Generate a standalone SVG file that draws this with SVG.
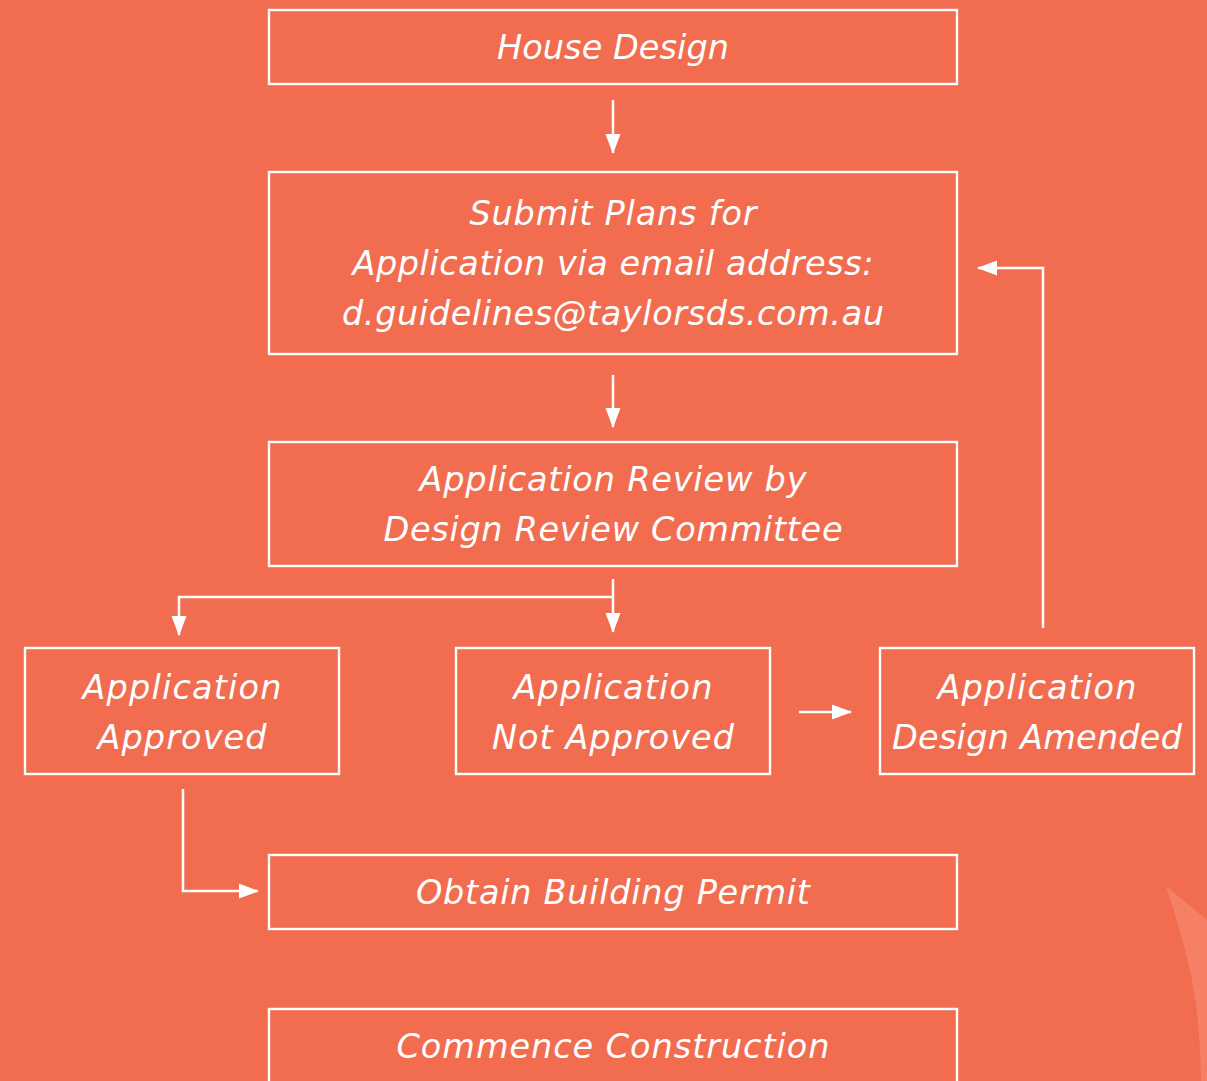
<svg xmlns="http://www.w3.org/2000/svg" width="1207" height="1081" viewBox="0 0 1207 1081">
<defs>
<style>
.box{fill:none;stroke:#fff;stroke-width:2.4}
.t{font-family:"DejaVu Sans","Liberation Sans",sans-serif;font-style:italic;font-size:33.5px;fill:#fff;text-anchor:middle}
.c{fill:none;stroke:#fff;stroke-width:2.5}
</style>
<marker id="a" markerUnits="userSpaceOnUse" markerWidth="20" markerHeight="18" viewBox="0 0 20 18" refX="19" refY="9" orient="auto">
<path d="M0,1.5 L20,9 L0,16.5 Z" fill="#fff"/>
</marker>
</defs>
<rect width="1207" height="1081" fill="#F26C50"/>
<path d="M1166,886 L1207,920 L1207,1081 L1201,1081 C1200,1000 1190,960 1166,886 Z" fill="#F5866B" opacity="0.8"/>
<g id="n1"><rect class="box" x="269" y="10" width="688" height="74"/><text class="t" x="613" y="59" textLength="232" lengthAdjust="spacing">House Design</text></g>
<g id="n2"><rect class="box" x="269" y="172" width="688" height="182"/><text class="t" x="613" y="225" textLength="287" lengthAdjust="spacing">Submit Plans for</text><text class="t" x="613" y="275" textLength="521" lengthAdjust="spacing">Application via email address:</text><text class="t" x="613" y="325" textLength="542" lengthAdjust="spacing">d.guidelines@taylorsds.com.au</text></g>
<g id="n3"><rect class="box" x="269" y="442" width="688" height="124"/><text class="t" x="613" y="491" textLength="387" lengthAdjust="spacing">Application Review by</text><text class="t" x="613" y="541" textLength="459" lengthAdjust="spacing">Design Review Committee</text></g>
<g id="n4"><rect class="box" x="25" y="648" width="314" height="126"/><text class="t" x="182" y="699" textLength="199" lengthAdjust="spacing">Application</text><text class="t" x="182" y="749" textLength="169" lengthAdjust="spacing">Approved</text></g>
<g id="n5"><rect class="box" x="456" y="648" width="314" height="126"/><text class="t" x="613" y="699" textLength="199" lengthAdjust="spacing">Application</text><text class="t" x="613" y="749" textLength="242" lengthAdjust="spacing">Not Approved</text></g>
<g id="n6"><rect class="box" x="880" y="648" width="314" height="126"/><text class="t" x="1037" y="699" textLength="199" lengthAdjust="spacing">Application</text><text class="t" x="1037" y="749" textLength="290" lengthAdjust="spacing">Design Amended</text></g>
<g id="n7"><rect class="box" x="269" y="855" width="688" height="74"/><text class="t" x="613" y="904" textLength="394" lengthAdjust="spacing">Obtain Building Permit</text></g>
<g id="n8"><rect class="box" x="269" y="1009" width="688" height="90"/><text class="t" x="613" y="1058" textLength="433" lengthAdjust="spacing">Commence Construction</text></g>
<g id="connectors">
<path class="c" d="M613,100 V153" marker-end="url(#a)"/>
<path class="c" d="M613,375 V427" marker-end="url(#a)"/>
<path class="c" d="M613,579 V632" marker-end="url(#a)"/>
<path class="c" d="M613,597 H179 V635" marker-end="url(#a)"/>
<path class="c" d="M183,789 V891 H258" marker-end="url(#a)"/>
<path class="c" d="M799,712 H851" marker-end="url(#a)"/>
<path class="c" d="M1043,628 V268 H978" marker-end="url(#a)"/>
</g>
</svg>
